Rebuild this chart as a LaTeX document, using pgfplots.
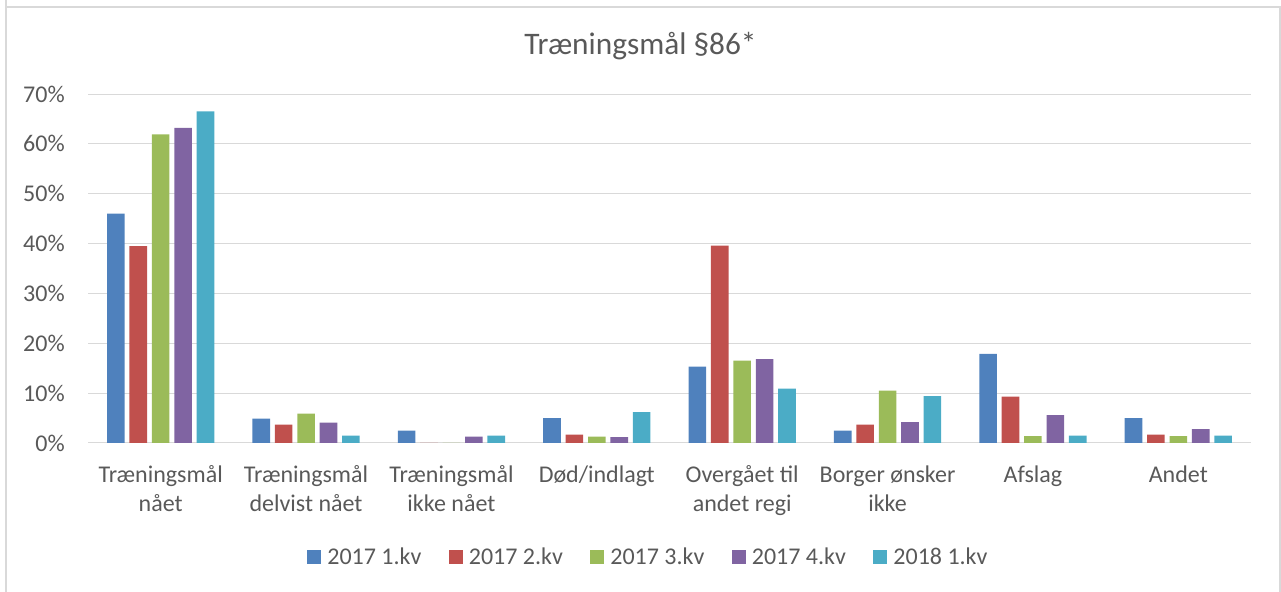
\documentclass[border=0pt]{standalone}
\usepackage{pgfplots}
\pgfplotsset{compat=1.18}
\usepackage{fontspec}
\setmainfont{Carlito}
\definecolor{txt}{HTML}{595959}
\definecolor{grd}{HTML}{D9D9D9}
\definecolor{c1}{HTML}{4F81BD}
\definecolor{c2}{HTML}{C0504D}
\definecolor{c3}{HTML}{9BBB59}
\definecolor{c4}{HTML}{8064A2}
\definecolor{c5}{HTML}{4BACC6}
\begin{document}
\begin{tikzpicture}[x=0.75pt,y=0.75pt]
\useasboundingbox (0,0) rectangle (1281,592);
\draw[grd, line width=0.9pt] (6,600) -- (6,585) -- (6,7+578) ;
\draw[grd, line width=0.9pt] (6,-5) -- (6,585) -- (1280,585) -- (1280,-5);
\node[anchor=base, font=\fontsize{23.5}{28}\selectfont, text=txt] at (640.5,537) {Træningsmål §86*};
\begin{axis}[
  at={(66pt,111.75pt)}, anchor=south west,
  scale only axis, width=872.25pt, height=261.75pt,
  ybar=3.6pt, bar width=13.2pt,
  xmin=-0.5, xmax=7.5, ymin=0, ymax=70,
  xtick={0,1,2,3,4,5,6,7},
  xticklabels={{Træningsmål\\nået},{Træningsmål\\delvist nået},{Træningsmål\\ikke nået},{Død/indlagt},{Overgået til\\andet regi},{Borger ønsker\\ikke},{Afslag},{Andet}},
  ytick={0,10,20,30,40,50,60,70},
  yticklabels={0\%,10\%,20\%,30\%,40\%,50\%,60\%,70\%},
  major tick length=0pt,
  axis line style={draw=none},
  ymajorgrids, grid style={grd, line width=0.75pt},
  xticklabel style={font=\fontsize{18}{21.75}\selectfont, text=txt, align=center, anchor=north, inner sep=0pt},
  xticklabel shift=17pt,
  yticklabel style={font=\fontsize{18}{21.75}\selectfont, text=txt, anchor=east, inner sep=0pt},
  yticklabel shift=17.25pt,
  legend columns=5,
  legend style={at={(0.481,-0.3266)}, anchor=center, draw=none, fill=none,
    font=\fontsize{18}{21.75}\selectfont, text=txt,
    /tikz/every odd column/.style={column sep=4.5pt},
    /tikz/every even column/.style={column sep=20.6pt},
    nodes={inner sep=0pt, anchor=west}},
  every axis plot post/.append style={draw=none},
  legend image code/.code={\fill[#1] (0pt,-5.25pt) rectangle (10.5pt,5.25pt);},
]
\addplot[fill=c1] coordinates {(0,46.0) (1,4.9) (2,2.5) (3,5.0) (4,15.3) (5,2.5) (6,17.9) (7,5.0)};
\addplot[fill=c2] coordinates {(0,39.5) (1,3.7) (2,0) (3,1.7) (4,39.6) (5,3.7) (6,9.3) (7,1.7)};
\addplot[fill=c3] coordinates {(0,61.9) (1,5.9) (2,0) (3,1.3) (4,16.5) (5,10.5) (6,1.4) (7,1.4)};
\addplot[fill=c4] coordinates {(0,63.2) (1,4.1) (2,1.3) (3,1.2) (4,16.8) (5,4.2) (6,5.6) (7,2.8)};
\addplot[fill=c5] coordinates {(0,66.5) (1,1.5) (2,1.5) (3,6.2) (4,10.9) (5,9.4) (6,1.5) (7,1.5)};
\legend{2017 1.kv, 2017 2.kv, 2017 3.kv, 2017 4.kv, 2018 1.kv}
\end{axis}
\end{tikzpicture}
\end{document}
